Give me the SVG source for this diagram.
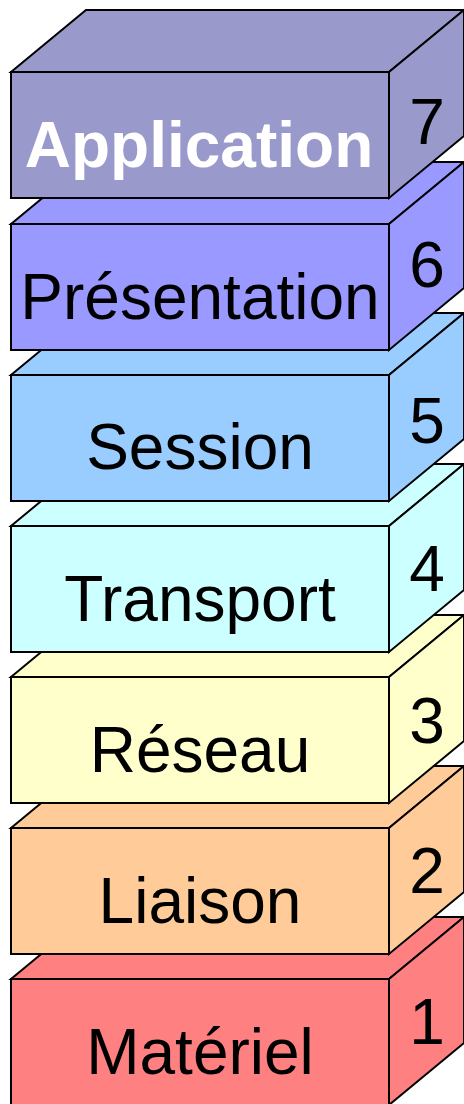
<svg xmlns="http://www.w3.org/2000/svg" width="464" height="1104" viewBox="0 0 464 1104">
  <style>
    .face { stroke: #000; stroke-width: 2; stroke-linejoin: miter; }
    .label { font-family: "Liberation Sans", Arial, sans-serif; font-size: 64px; text-anchor: middle; fill: #000; }
    .num { font-family: "Liberation Sans", Arial, sans-serif; font-size: 64px; text-anchor: middle; fill: #000; }
    .bold { font-weight: bold; fill: #fff; }
  </style>
  <defs>
    <!-- one 3D slab: front 378x126, depth offset (75,-62) -->
    <g id="slab">
      <polygon class="face" points="11,0 86,-62 464,-62 389,0"/>
      <polygon class="face" points="389,0 464,-62 464,64 389,126"/>
      <rect class="face" x="11" y="0" width="378" height="126"/>
    </g>
  </defs>

  <!-- stacked from the bottom layer upwards so upper slabs overlap lower ones -->
  <g id="layer1" transform="translate(0,979)" fill="#ff8080">
    <use href="#slab"/>
    <text class="label" x="200" y="95">Matériel</text>
    <text class="num" x="427" y="65">1</text>
  </g>
  <g id="layer2" transform="translate(0,828)" fill="#ffcc99">
    <use href="#slab"/>
    <text class="label" x="200" y="95">Liaison</text>
    <text class="num" x="427" y="65">2</text>
  </g>
  <g id="layer3" transform="translate(0,677)" fill="#ffffcc">
    <use href="#slab"/>
    <text class="label" x="200" y="95">Réseau</text>
    <text class="num" x="427" y="66">3</text>
  </g>
  <g id="layer4" transform="translate(0,526)" fill="#ccffff">
    <use href="#slab"/>
    <text class="label" x="200" y="95">Transport</text>
    <text class="num" x="427" y="65">4</text>
  </g>
  <g id="layer5" transform="translate(0,375)" fill="#99ccff">
    <use href="#slab"/>
    <text class="label" x="200" y="94">Session</text>
    <text class="num" x="427" y="68">5</text>
  </g>
  <g id="layer6" transform="translate(0,224)" fill="#9999ff">
    <use href="#slab"/>
    <text class="label" x="200" y="95">Présentation</text>
    <text class="num" x="427" y="63">6</text>
  </g>
  <g id="layer7" transform="translate(0,72)" fill="#9999cc">
    <use href="#slab"/>
    <text class="label bold" x="199" y="95">Application</text>
    <text class="num" x="427" y="72">7</text>
  </g>
</svg>
